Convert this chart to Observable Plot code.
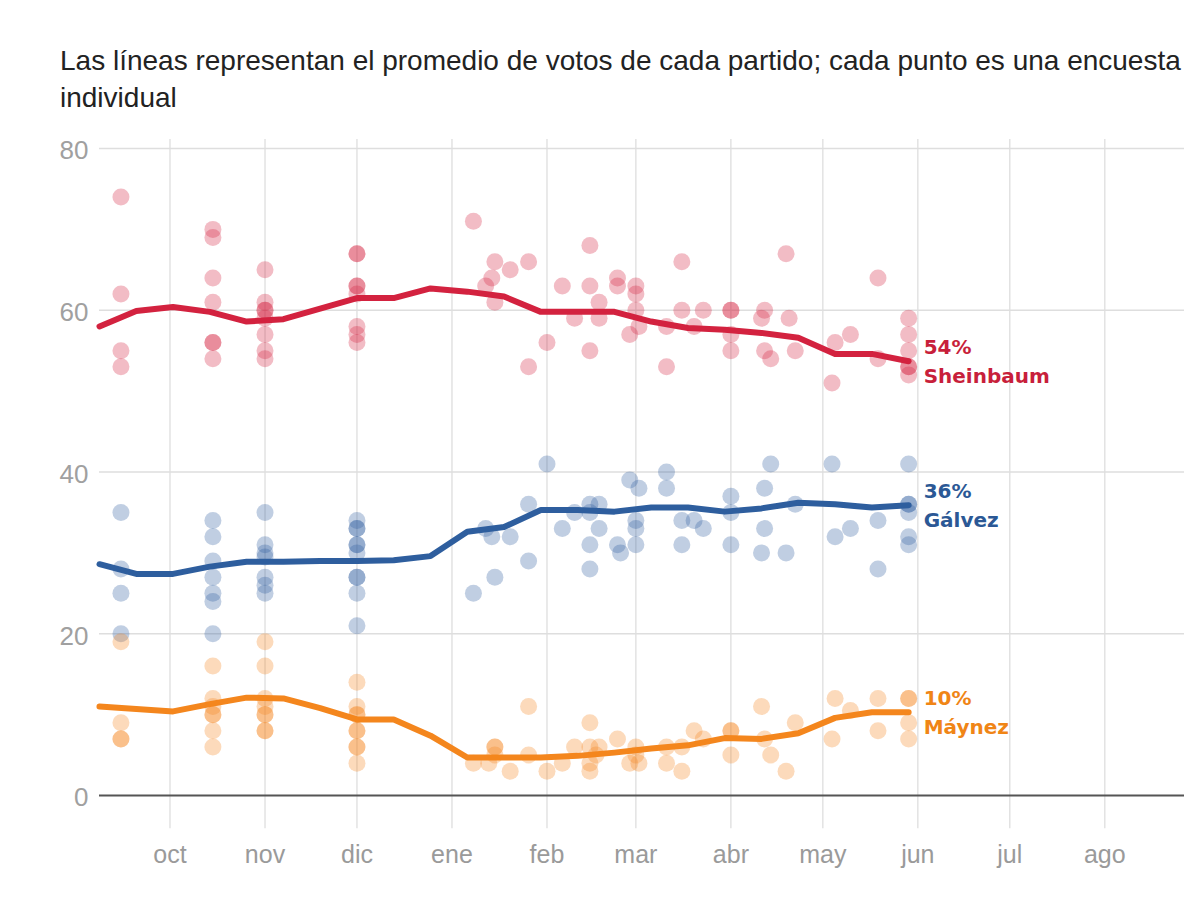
<!DOCTYPE html>
<html>
<head>
<meta charset="utf-8">
<script src="https://cdn.jsdelivr.net/npm/d3@7"></script>
<script src="https://cdn.jsdelivr.net/npm/@observablehq/plot@0.6"></script>
<style>
  html, body { margin: 0; padding: 0; background: #fff; width: 1200px; height: 900px; overflow: hidden; }
  #title { position: absolute; left: 60px; top: 42px; font-family: "Liberation Sans", Arial, sans-serif; font-size: 28px; line-height: 37px; color: #222; white-space: nowrap; }
  #chart { position: absolute; left: 0; top: 120px; }
</style>
</head>
<body>
<div id="title">Las líneas representan el promedio de votos de cada partido; cada punto es una encuesta<br>individual</div>
<div id="chart"></div>
<script>
// ---- Data ----
const xDomain = ["2023-09-08", "2024-08-27"];
const monthTicks = ["2023-10-01","2023-11-01","2023-12-01","2024-01-01","2024-02-01","2024-03-01","2024-04-01","2024-05-01","2024-06-01","2024-07-01","2024-08-01"];
const monthLabels = ["oct","nov","dic","ene","feb","mar","abr","may","jun","jul","ago"];
const yTicks = [0, 20, 40, 60, 80];

const candidates = ["Sheinbaum", "Gálvez", "Máynez"];
const lineColors = ["#d3223f", "#2e5e9e", "#f4861d"];
const labelColors = ["#c81f3b", "#2b5895", "#f08516"];

// individual polls: [date, value]
const sheinbaumPolls = [
  ["2023-09-15",74],["2023-09-15",62],["2023-09-15",55],["2023-09-15",53],
  ["2023-10-15",70],["2023-10-15",69],["2023-10-15",64],["2023-10-15",61],["2023-10-15",56],["2023-10-15",56],["2023-10-15",54],
  ["2023-11-01",65],["2023-11-01",61],["2023-11-01",60],["2023-11-01",60],["2023-11-01",59],["2023-11-01",57],["2023-11-01",55],["2023-11-01",54],
  ["2023-12-01",67],["2023-12-01",67],["2023-12-01",63],["2023-12-01",63],["2023-12-01",62],["2023-12-01",58],["2023-12-01",57],["2023-12-01",56],
  ["2024-01-08",71],["2024-01-12",63],["2024-01-14",64],["2024-01-15",66],["2024-01-15",61],["2024-01-20",65],
  ["2024-01-26",66],["2024-01-26",53],["2024-02-01",56],["2024-02-06",63],["2024-02-10",59],
  ["2024-02-15",68],["2024-02-15",63],["2024-02-15",55],["2024-02-18",61],["2024-02-18",59],
  ["2024-02-24",64],["2024-02-24",63],["2024-02-28",57],
  ["2024-03-01",63],["2024-03-01",62],["2024-03-01",60],["2024-03-02",58],
  ["2024-03-11",58],["2024-03-11",53],["2024-03-16",66],["2024-03-16",60],["2024-03-20",58],["2024-03-23",60],
  ["2024-04-01",60],["2024-04-01",60],["2024-04-01",57],["2024-04-01",55],
  ["2024-04-11",59],["2024-04-12",60],["2024-04-12",55],["2024-04-14",54],["2024-04-19",67],["2024-04-20",59],["2024-04-22",55],
  ["2024-05-04",51],["2024-05-05",56],["2024-05-10",57],["2024-05-19",64],["2024-05-19",54],
  ["2024-05-29",59],["2024-05-29",57],["2024-05-29",55],["2024-05-29",53],["2024-05-29",53],["2024-05-29",52]
];
const galvezPolls = [
  ["2023-09-15",35],["2023-09-15",28],["2023-09-15",25],["2023-09-15",20],
  ["2023-10-15",34],["2023-10-15",32],["2023-10-15",29],["2023-10-15",27],["2023-10-15",25],["2023-10-15",24],["2023-10-15",20],
  ["2023-11-01",35],["2023-11-01",31],["2023-11-01",30],["2023-11-01",29.5],["2023-11-01",27],["2023-11-01",26],["2023-11-01",25],
  ["2023-12-01",34],["2023-12-01",33],["2023-12-01",33],["2023-12-01",31],["2023-12-01",31],["2023-12-01",30],["2023-12-01",27],["2023-12-01",27],["2023-12-01",25],["2023-12-01",21],
  ["2024-01-08",25],["2024-01-12",33],["2024-01-14",32],["2024-01-15",27],["2024-01-20",32],
  ["2024-01-26",36],["2024-01-26",29],["2024-02-01",41],["2024-02-06",33],["2024-02-10",35],
  ["2024-02-15",36],["2024-02-15",35],["2024-02-15",31],["2024-02-15",28],["2024-02-18",36],["2024-02-18",33],
  ["2024-02-24",31],["2024-02-25",30],["2024-02-28",39],
  ["2024-03-01",34],["2024-03-01",33],["2024-03-01",31],["2024-03-02",38],
  ["2024-03-11",40],["2024-03-11",38],["2024-03-16",34],["2024-03-16",31],["2024-03-20",34],["2024-03-23",33],
  ["2024-04-01",37],["2024-04-01",35],["2024-04-01",31],
  ["2024-04-11",30],["2024-04-12",38],["2024-04-12",33],["2024-04-14",41],["2024-04-19",30],["2024-04-22",36],
  ["2024-05-04",41],["2024-05-05",32],["2024-05-10",33],["2024-05-19",34],["2024-05-19",28],
  ["2024-05-29",41],["2024-05-29",36],["2024-05-29",36],["2024-05-29",35],["2024-05-29",32],["2024-05-29",31]
];
const maynezPolls = [
  ["2023-09-15",19],["2023-09-15",9],["2023-09-15",7],["2023-09-15",7],
  ["2023-10-15",16],["2023-10-15",12],["2023-10-15",11],["2023-10-15",10],["2023-10-15",10],["2023-10-15",8],["2023-10-15",6],
  ["2023-11-01",19],["2023-11-01",16],["2023-11-01",12],["2023-11-01",11],["2023-11-01",10],["2023-11-01",10],["2023-11-01",8],["2023-11-01",8],
  ["2023-12-01",14],["2023-12-01",11],["2023-12-01",10],["2023-12-01",10],["2023-12-01",8],["2023-12-01",8],["2023-12-01",6],["2023-12-01",6],["2023-12-01",4],
  ["2024-01-08",4],["2024-01-13",4],["2024-01-15",6],["2024-01-15",6],["2024-01-15",5],["2024-01-20",3],
  ["2024-01-26",11],["2024-01-26",5],["2024-02-01",3],["2024-02-06",4],["2024-02-10",6],
  ["2024-02-15",9],["2024-02-15",6],["2024-02-15",4],["2024-02-15",3],["2024-02-17",5],["2024-02-18",6],
  ["2024-02-24",7],["2024-02-28",4],
  ["2024-03-01",6],["2024-03-01",5],["2024-03-02",4],
  ["2024-03-11",6],["2024-03-11",4],["2024-03-16",6],["2024-03-16",3],["2024-03-20",8],["2024-03-23",7],
  ["2024-04-01",8],["2024-04-01",8],["2024-04-01",5],
  ["2024-04-11",11],["2024-04-12",7],["2024-04-14",5],["2024-04-19",3],["2024-04-22",9],
  ["2024-05-04",7],["2024-05-05",12],["2024-05-10",10.5],["2024-05-19",12],["2024-05-19",8],
  ["2024-05-29",12],["2024-05-29",12],["2024-05-29",9],["2024-05-29",7]
];

// poll averages (line vertices)
const avgDates = ["2023-09-08","2023-09-20","2023-10-02","2023-10-14","2023-10-26","2023-11-07","2023-11-19","2023-12-01","2023-12-13","2023-12-25","2024-01-06","2024-01-18","2024-01-30","2024-02-11","2024-02-23","2024-03-06","2024-03-18","2024-03-30","2024-04-11","2024-04-23","2024-05-05","2024-05-17","2024-05-29"];
const sheinbaumAvg = [58.0,59.9,60.4,59.8,58.6,58.9,60.2,61.5,61.5,62.7,62.3,61.7,59.8,59.8,59.8,58.6,57.8,57.6,57.2,56.6,54.6,54.6,53.7];
const galvezAvg    = [28.6,27.4,27.4,28.3,28.9,28.9,29.0,29.0,29.1,29.6,32.6,33.2,35.3,35.3,35.1,35.6,35.6,35.1,35.5,36.2,36.0,35.6,35.9];
const maynezAvg    = [11.0,10.7,10.4,11.3,12.1,12.0,10.8,9.4,9.4,7.4,4.7,4.7,4.7,4.9,5.3,5.8,6.2,7.1,7.0,7.7,9.6,10.3,10.3];

// ---- Build tables ----
const parse = s => new Date(s + "T00:00:00Z");
const pollSets = [sheinbaumPolls, galvezPolls, maynezPolls];
const avgSets = [sheinbaumAvg, galvezAvg, maynezAvg];
const polls = pollSets.flatMap((arr, i) => arr.map(([d, v]) => ({cand: candidates[i], date: parse(d), v})));
const avgs = avgSets.flatMap((arr, i) => arr.map((v, j) => ({cand: candidates[i], date: parse(avgDates[j]), v})));
const lastPts = avgSets.map((arr, i) => ({cand: candidates[i], date: parse(avgDates[avgDates.length - 1]), v: arr[arr.length - 1], color: labelColors[i]}));
const ticks = monthTicks.map(parse);
const colorOf = c => lineColors[candidates.indexOf(c)];

const chart = Plot.plot({
  width: 1200,
  height: 780,
  marginLeft: 99,
  marginRight: 16,
  marginTop: 28,
  marginBottom: 105,
  style: {fontFamily: "'Liberation Sans', Arial, sans-serif", background: "#fff", overflow: "visible"},
  x: {type: "utc", domain: xDomain.map(parse), axis: null},
  y: {domain: [0, 80], axis: null},
  marks: [
    Plot.ruleX(ticks, {y1: -4.1, y2: 81.1, stroke: "#dedede", strokeWidth: 1.3}),
    Plot.ruleY(yTicks.filter(d => d > 0), {stroke: "#dedede", strokeWidth: 1.3}),
    Plot.ruleY([0], {stroke: "#555", strokeWidth: 2}),
    Plot.text(yTicks, {x: parse(xDomain[0]), y: d => d, text: d => String(d), textAnchor: "end", dx: -11, dy: 2.5, fontSize: 26, fill: "#a0a0a0"}),
    Plot.text(ticks, {x: d => d, y: 0, text: (d, i) => monthLabels[i], dy: 59, fontSize: 25, fill: "#9a9a9a"}),
    Plot.dot(polls, {x: "date", y: "v", r: 8.5, fill: d => colorOf(d.cand), fillOpacity: 0.3, stroke: null}),
    Plot.line(avgs, {x: "date", y: "v", z: "cand", stroke: d => colorOf(d.cand), strokeWidth: 6, strokeLinejoin: "round", strokeLinecap: "round"}),
    Plot.text(lastPts, {x: "date", y: "v", text: d => `${Math.round(d.v)}%\n${d.cand}`, fill: d => d.color, dx: 15, dy: -1.5, textAnchor: "start", lineHeight: 1.45, fontSize: 20, fontWeight: "bold", fontFamily: "'DejaVu Sans', sans-serif"})
  ]
});
document.getElementById("chart").appendChild(chart);
</script>
</body>
</html>
